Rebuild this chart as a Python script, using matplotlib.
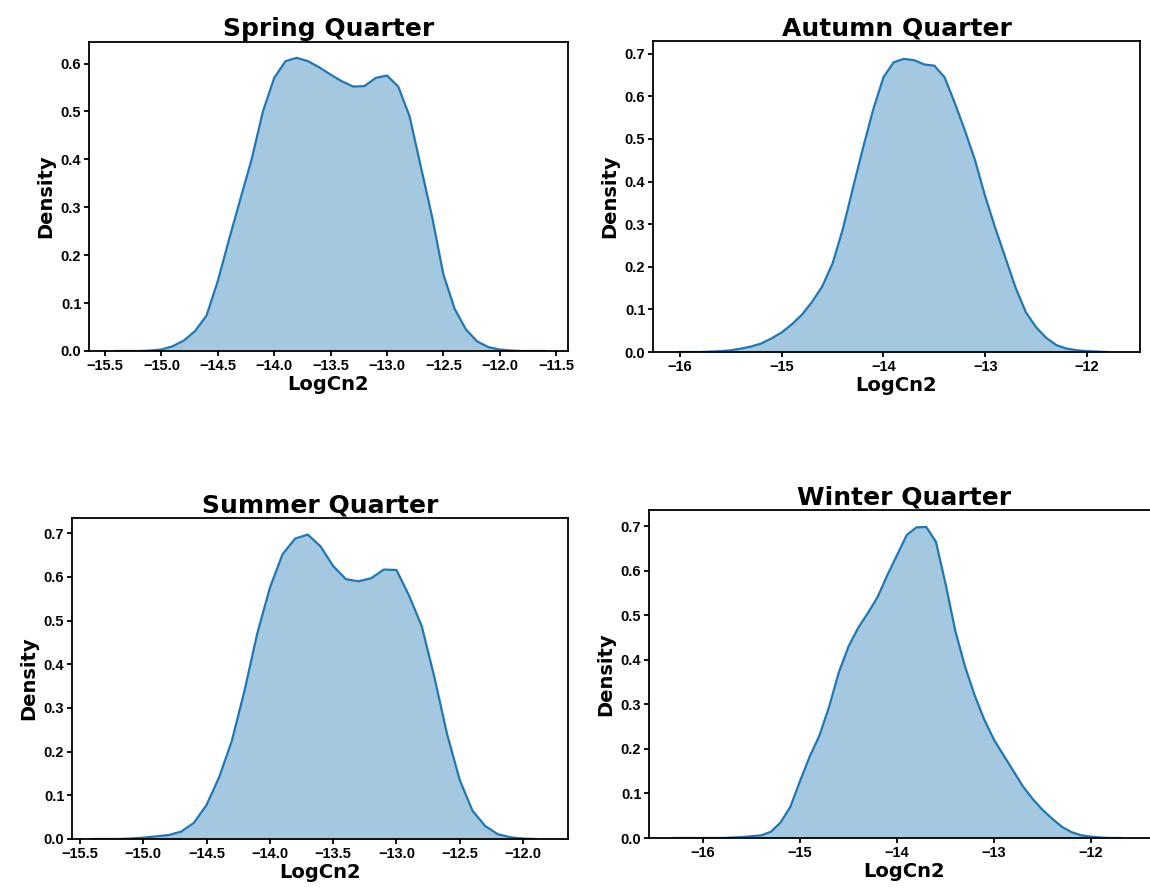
import matplotlib
matplotlib.use('Agg')
import matplotlib.pyplot as plt

spring_x = [-15.4, -15.3, -15.2, -15.1, -15.0, -14.9, -14.8, -14.7, -14.6, -14.5,
            -14.4, -14.3, -14.2, -14.1, -14.0, -13.9, -13.8, -13.7, -13.6, -13.5,
            -13.4, -13.3, -13.2, -13.1, -13.0, -12.9, -12.8, -12.7, -12.6, -12.5,
            -12.4, -12.3, -12.2, -12.1, -12.0, -11.9, -11.8, -11.7, -11.6]
spring_y = [0.0, 0.0, 0.0, 0.001, 0.003, 0.010, 0.022, 0.042, 0.074, 0.146,
            0.233, 0.317, 0.40, 0.50, 0.57, 0.605, 0.612, 0.605, 0.592, 0.577,
            0.563, 0.552, 0.553, 0.570, 0.575, 0.552, 0.49, 0.385, 0.28, 0.16,
            0.088, 0.045, 0.020, 0.008, 0.003, 0.001, 0.0, 0.0, 0.0]

autumn_x = [-16.0, -15.9, -15.8, -15.7, -15.6, -15.5, -15.4, -15.3, -15.2, -15.1,
            -15.0, -14.9, -14.8, -14.7, -14.6, -14.5, -14.4, -14.3, -14.2, -14.1,
            -14.0, -13.9, -13.8, -13.7, -13.6, -13.5, -13.4, -13.3, -13.2, -13.1,
            -13.0, -12.9, -12.8, -12.7, -12.6, -12.5, -12.4, -12.3, -12.2, -12.1,
            -12.0, -11.9, -11.8]
autumn_y = [0.0, 0.0, 0.0, 0.001, 0.002, 0.004, 0.008, 0.013, 0.020, 0.032,
            0.046, 0.065, 0.088, 0.118, 0.155, 0.208, 0.288, 0.385, 0.48, 0.57,
            0.645, 0.68, 0.688, 0.685, 0.675, 0.672, 0.645, 0.585, 0.52, 0.45,
            0.365, 0.29, 0.22, 0.15, 0.093, 0.058, 0.033, 0.016, 0.008, 0.004,
            0.002, 0.001, 0.0]

summer_x = [-15.4, -15.3, -15.2, -15.1, -15.0, -14.9, -14.8, -14.7, -14.6, -14.5,
            -14.4, -14.3, -14.2, -14.1, -14.0, -13.9, -13.8, -13.7, -13.6, -13.5,
            -13.4, -13.3, -13.2, -13.1, -13.0, -12.9, -12.8, -12.7, -12.6, -12.5,
            -12.4, -12.3, -12.2, -12.1, -12.0, -11.9]
summer_y = [0.0, 0.0, 0.0, 0.001, 0.003, 0.006, 0.009, 0.017, 0.037, 0.078,
            0.142, 0.225, 0.34, 0.47, 0.575, 0.652, 0.688, 0.697, 0.67, 0.625,
            0.595, 0.59, 0.597, 0.617, 0.616, 0.557, 0.487, 0.37, 0.24, 0.135,
            0.065, 0.03, 0.011, 0.004, 0.001, 0.0]

winter_x = [-16.3, -16.2, -16.1, -16.0, -15.9, -15.8, -15.7, -15.6, -15.5, -15.4,
            -15.3, -15.2, -15.1, -15.0, -14.9, -14.8, -14.7, -14.6, -14.5, -14.4,
            -14.3, -14.2, -14.1, -14.0, -13.9, -13.8, -13.7, -13.6, -13.5, -13.4,
            -13.3, -13.2, -13.1, -13.0, -12.9, -12.8, -12.7, -12.6, -12.5, -12.4,
            -12.3, -12.2, -12.1, -12.0, -11.9, -11.8, -11.7]
winter_y = [0.0, 0.0, 0.0, 0.0, 0.0, 0.0, 0.001, 0.002, 0.004, 0.006,
            0.014, 0.035, 0.07, 0.128, 0.183, 0.23, 0.295, 0.372, 0.43, 0.472,
            0.505, 0.541, 0.59, 0.635, 0.68, 0.697, 0.698, 0.665, 0.57, 0.465,
            0.385, 0.32, 0.265, 0.22, 0.185, 0.15, 0.115, 0.087, 0.063, 0.043,
            0.025, 0.013, 0.006, 0.003, 0.001, 0.0, 0.0]

spring_xticks = [-15.5, -15.0, -14.5, -14.0, -13.5, -13.0, -12.5, -12.0, -11.5]
summer_xticks = [-15.5, -15.0, -14.5, -14.0, -13.5, -13.0, -12.5, -12.0]
unit_xticks = [-16, -15, -14, -13, -12]
spring_yticks = [0.0, 0.1, 0.2, 0.3, 0.4, 0.5, 0.6]
other_yticks = [0.0, 0.1, 0.2, 0.3, 0.4, 0.5, 0.6, 0.7]

tick_font = {'family': 'Liberation Sans', 'weight': 'bold', 'size': 10.5}


def draw_panel(fig, rect, x, y, title, xlim, ylim, xticks, yticks, xfmt):
    ax = fig.add_axes(rect)
    ax.fill_between(x, y, 0, color='#1f77b4', alpha=0.4, linewidth=0)
    ax.plot(x, y, color='#1f77b4', linewidth=1.6)
    ax.set_xlim(xlim)
    ax.set_ylim(ylim)
    ax.set_xticks(xticks)
    ax.set_xticklabels([xfmt.format(v).replace('-', '\u2212') for v in xticks], fontdict=tick_font)
    ax.set_yticks(yticks)
    ax.set_yticklabels(['{:.1f}'.format(v) for v in yticks], fontdict=tick_font)
    ax.tick_params(length=3.5, width=1.3, pad=2)
    for s in ax.spines.values():
        s.set_linewidth(1.3)
    ax.set_title(title, fontsize=18, fontweight='bold', pad=4)
    ax.set_xlabel('LogCn2', fontsize=14, fontweight='bold', labelpad=2)
    ax.set_ylabel('Density', fontsize=14, fontweight='bold')
    return ax


def main():
    fig = plt.figure(figsize=(11.5, 8.94), dpi=100)
    W, H = 1150.0, 894.0

    # axes boxes in pixels: left, top, right, bottom
    def box(l, t, r, b):
        return [l / W, 1 - b / H, (r - l) / W, (b - t) / H]

    draw_panel(fig, box(89, 42, 568, 351), spring_x, spring_y, 'Spring Quarter',
               (-15.642, -11.395), (0, 0.645), spring_xticks, spring_yticks, '{:.1f}')
    draw_panel(fig, box(653, 41, 1140, 352), autumn_x, autumn_y, 'Autumn Quarter',
               (-16.265, -11.479), (0, 0.730), unit_xticks, other_yticks, '{:d}')
    draw_panel(fig, box(72, 518, 568, 839), summer_x, summer_y, 'Summer Quarter',
               (-15.563, -11.645), (0, 0.735), summer_xticks, other_yticks, '{:.1f}')
    draw_panel(fig, box(649, 510, 1160, 838), winter_x, winter_y, 'Winter Quarter',
               (-16.557, -11.29), (0, 0.736), unit_xticks, other_yticks, '{:d}')

    fig.savefig('out.png', dpi=100)


if __name__ == "__main__":
    main()
